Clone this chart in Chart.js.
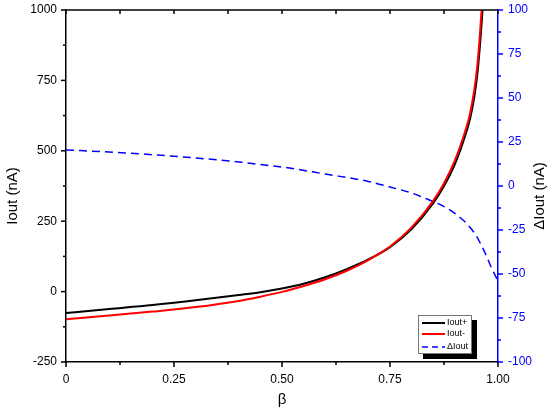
<!DOCTYPE html>
<html>
<head>
<meta charset="utf-8">
<script src="https://cdn.jsdelivr.net/npm/chart.js@4.4.1/dist/chart.umd.min.js"></script>
<style>
html, body { margin: 0; padding: 0; background: #fff; }
#wrap { width: 550px; height: 414px; position: relative; }
</style>
</head>
<body>
<div id="wrap"><canvas id="chart"></canvas></div>
<script>
// values
const betaPlus = [0, 0.1, 0.2, 0.3, 0.4, 0.45, 0.5, 0.55, 0.6, 0.65, 0.7, 0.75, 0.8, 0.85, 0.875, 0.9, 0.92, 0.935, 0.945, 0.952, 0.958, 0.962, 0.966, 0.972];
const ioutPlus = [-76, -62, -48, -31, -12, -2, 11, 28, 51, 80, 114, 158, 222, 314, 375, 452, 535, 612, 690, 770, 870, 950, 1040, 1200];

const betaMinus = [0, 0.1, 0.2, 0.3, 0.4, 0.45, 0.5, 0.55, 0.6, 0.65, 0.7, 0.75, 0.8, 0.85, 0.875, 0.9, 0.92, 0.935, 0.945, 0.952, 0.958, 0.962, 0.968];
const ioutMinus = [-98, -85, -71, -55, -33, -18, -1, 20, 44, 74, 112, 160, 228, 322, 385, 465, 550, 630, 715, 800, 910, 1000, 1150];

const betaDelta = [0, 0.1, 0.2, 0.25, 0.3, 0.4, 0.45, 0.5, 0.6, 0.7, 0.75, 0.8, 0.85, 0.87, 0.9, 0.93, 0.95, 0.97, 0.985, 1.0];
const deltaIout = [20.5, 19.3, 17.8, 16.9, 15.9, 13.7, 12.2, 10.8, 6.8, 2.6, -0.6, -4, -8.9, -11, -15.5, -22, -28.5, -38, -46.5, -54];

const xTicks = [0, 0.25, 0.5, 0.75, 1];
const yTicks = [-250, 0, 250, 500, 750, 1000];
const y2Ticks = [-100, -75, -50, -25, 0, 25, 50, 75, 100];

const FONT = '"Liberation Sans", Arial, Helvetica, sans-serif';
const BLUE = '#0000ff';

function pts(xs, ys) {
    return xs.map((x, i) => ({ x: x, y: ys[i] }));
}

function minorsOf(t) {
    const out = [];
    for (let i = 0; i < t.length - 1; i++) out.push((t[i] + t[i + 1]) / 2);
    return out;
}

// fixed axis sizes so the plot box lands where the reference has it
function fixVertical(w) {
    return s => { s.width = w; s.paddingTop = 0; s.paddingBottom = 0; };
}

// ticks on all four sides, titles and the boxed legend
const frame = {
    id: 'frame',
    afterDraw(chart) {
        const ctx = chart.ctx;
        const a = chart.chartArea;
        const sx = chart.scales.x, sy = chart.scales.y, sy2 = chart.scales.y2;
        ctx.save();
        ctx.lineWidth = 1.5;

        const line = (x1, y1, x2, y2) => {
            ctx.beginPath(); ctx.moveTo(x1, y1); ctx.lineTo(x2, y2); ctx.stroke();
        };

        // top frame line
        ctx.strokeStyle = '#000';
        line(a.left, a.top, a.right, a.top);

        xTicks.forEach(v => {
            const p = sx.getPixelForValue(v);
            line(p, a.bottom, p, a.bottom + 5);
            line(p, a.top, p, a.top + 4);
        });
        minorsOf(xTicks).forEach(v => {
            const p = sx.getPixelForValue(v);
            line(p, a.bottom, p, a.bottom + 3);
            line(p, a.top, p, a.top + 4);
        });
        yTicks.forEach(v => {
            const p = sy.getPixelForValue(v);
            line(a.left, p, a.left - 5, p);
        });
        minorsOf(yTicks).forEach(v => {
            const p = sy.getPixelForValue(v);
            line(a.left, p, a.left - 3, p);
        });
        ctx.strokeStyle = BLUE;
        y2Ticks.forEach(v => {
            const p = sy2.getPixelForValue(v);
            line(a.right, p, a.right + 5, p);
        });
        minorsOf(y2Ticks).forEach(v => {
            const p = sy2.getPixelForValue(v);
            line(a.right, p, a.right + 3, p);
        });

        // axis titles
        ctx.font = '15px ' + FONT;
        ctx.textAlign = 'center';
        ctx.textBaseline = 'middle';
        ctx.fillStyle = '#000';
        ctx.fillText('β', (a.left + a.right) / 2, 400);
        ctx.save();
        ctx.translate(13, 196);
        ctx.rotate(-Math.PI / 2);
        ctx.fillText('Iout (nA)', 0, 0);
        ctx.restore();
        ctx.save();
        ctx.translate(540, 196);
        ctx.rotate(-Math.PI / 2);
        ctx.fillText('ΔIout (nA)', 0, 0);
        ctx.restore();

        // legend with drop shadow
        const lx = 418, ly = 315, lw = 54, lh = 39;
        ctx.fillStyle = '#000';
        ctx.fillRect(lx + 5, ly + 5, lw, lh);
        ctx.fillStyle = '#fff';
        ctx.fillRect(lx, ly, lw, lh);
        ctx.strokeStyle = '#555';
        ctx.lineWidth = 0.8;
        ctx.strokeRect(lx + 0.5, ly + 0.5, lw - 1, lh - 1);

        const rows = [
            { label: 'Iout+', color: '#000', dash: [], y: 323 },
            { label: 'Iout-', color: '#ff0000', dash: [], y: 334 },
            { label: 'ΔIout', color: BLUE, dash: [6, 4], y: 347 }
        ];
        ctx.font = '9px ' + FONT;
        ctx.textAlign = 'left';
        rows.forEach(r => {
            ctx.strokeStyle = r.color;
            ctx.lineWidth = r.dash.length ? 1.5 : 2;
            ctx.setLineDash(r.dash);
            line(422, r.y, 445, r.y);
            ctx.setLineDash([]);
            ctx.fillStyle = '#000';
            ctx.fillText(r.label, 447, r.y);
        });
        ctx.restore();
    }
};

new Chart(document.getElementById('chart'), {
    type: 'line',
    data: {
        datasets: [
            {
                label: 'Iout-',
                data: pts(betaMinus, ioutMinus),
                borderColor: '#ff0000',
                borderWidth: 2,
                pointRadius: 0,
                cubicInterpolationMode: 'monotone',
                yAxisID: 'y',
                clip: 0,
                order: 0
            },
            {
                label: 'Iout+',
                data: pts(betaPlus, ioutPlus),
                borderColor: '#000000',
                borderWidth: 2,
                pointRadius: 0,
                cubicInterpolationMode: 'monotone',
                yAxisID: 'y',
                clip: 0,
                order: 1
            },
            {
                label: 'ΔIout',
                data: pts(betaDelta, deltaIout),
                borderColor: BLUE,
                borderWidth: 1.5,
                borderDash: [8, 5],
                pointRadius: 0,
                cubicInterpolationMode: 'monotone',
                yAxisID: 'y2',
                clip: 0,
                order: 2
            }
        ]
    },
    options: {
        responsive: true,
        maintainAspectRatio: false,
        animation: false,
        events: [],
        layout: { padding: { top: 10, left: 0, right: 0, bottom: 0 } },
        scales: {
            x: {
                type: 'linear',
                position: 'bottom',
                min: 0,
                max: 1,
                afterFit: s => { s.height = 52; s.paddingLeft = 0; s.paddingRight = 0; },
                afterBuildTicks: s => { s.ticks = xTicks.map(v => ({ value: v })); },
                grid: { display: false, drawTicks: false },
                border: { display: true, color: '#000', width: 1.5 },
                ticks: {
                    padding: 10,
                    color: '#000',
                    font: { family: FONT, size: 12 },
                    callback: v => v === 0 ? '0' : v.toFixed(2)
                }
            },
            y: {
                type: 'linear',
                position: 'left',
                min: -250,
                max: 1000,
                afterFit: fixVertical(66),
                afterBuildTicks: s => { s.ticks = yTicks.map(v => ({ value: v })); },
                grid: { display: false, drawTicks: false },
                border: { display: true, color: '#000', width: 1.5 },
                ticks: {
                    padding: 9,
                    color: '#000',
                    font: { family: FONT, size: 12 },
                    callback: v => String(v)
                }
            },
            y2: {
                type: 'linear',
                position: 'right',
                min: -100,
                max: 100,
                afterFit: fixVertical(52),
                afterBuildTicks: s => { s.ticks = y2Ticks.map(v => ({ value: v })); },
                grid: { display: false, drawTicks: false },
                border: { display: true, color: BLUE, width: 1.5 },
                ticks: {
                    padding: 10,
                    color: BLUE,
                    font: { family: FONT, size: 12 },
                    callback: v => String(v)
                }
            }
        },
        plugins: {
            legend: { display: false },
            tooltip: { enabled: false }
        }
    },
    plugins: [frame]
});
</script>
</body>
</html>
